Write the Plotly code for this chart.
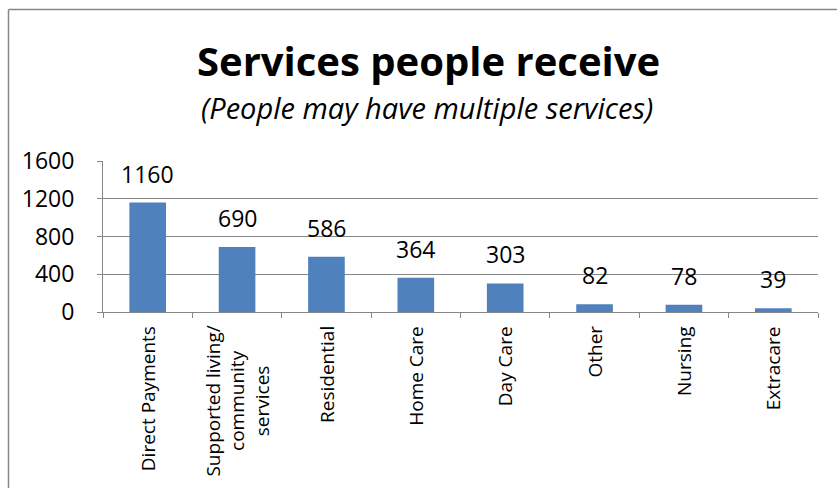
import plotly.graph_objects as go

categories = ["Direct Payments", "Supported living/<br>community<br>services", "Residential",
              "Home Care", "Day Care", "Other", "Nursing", "Extracare"]
values = [1160, 690, 586, 364, 303, 82, 78, 39]
y_ticks = [0, 400, 800, 1200, 1600]

title_text = "Services people receive"
subtitle_text = "(People may have multiple services)"

W, H = 837, 488
L, R, T, B = 103, 19, 161, 176
plot_h = H - T - B
plot_w = W - L - R

def py(pix):
    return (H - B - pix) / plot_h

def px(pix):
    return (pix - L) / plot_w

FONT = "Open Sans"
GRAY = "#868686"

fig = go.Figure()
fig.add_trace(go.Bar(
    x=list(range(len(categories))), y=values,
    marker=dict(color="#4F81BD", line=dict(width=0)),
    width=0.41,
    hoverinfo="skip",
))

annotations = []
for i, v in enumerate(values):
    annotations.append(dict(x=i, y=v, xref="x", yref="y", text=str(v), showarrow=False,
                            yanchor="bottom", yshift=11,
                            font=dict(family=FONT, size=23, color="#000000")))
for i, c in enumerate(categories):
    annotations.append(dict(x=i, y=0, xref="x", yref="paper", text=c, showarrow=False,
                            textangle=-90, yanchor="top", xanchor="center", align="center",
                            yshift=-12,
                            font=dict(family=FONT, size=19, color="#000000")))
annotations.append(dict(x=px(428), y=py(61), xref="paper", yref="paper", text="<b>" + title_text + "</b>",
                        showarrow=False, xanchor="center", yanchor="middle",
                        font=dict(family=FONT, size=40, color="#000000")))
annotations.append(dict(x=px(426.5), y=py(107), xref="paper", yref="paper", text="<i>" + subtitle_text + "</i>",
                        showarrow=False, xanchor="center", yanchor="middle",
                        font=dict(family=FONT, size=29, color="#000000")))

shapes = [
    dict(type="line", xref="paper", yref="paper", x0=px(8.5), x1=px(8.5), y0=py(9.5), y1=py(600),
         line=dict(color=GRAY, width=1.5)),
    dict(type="line", xref="paper", yref="paper", x0=px(8.5), x1=px(900), y0=py(9.5), y1=py(9.5),
         line=dict(color=GRAY, width=1.5)),
]

fig.update_layout(
    width=W, height=H,
    margin=dict(l=L, r=R, t=T, b=B, pad=0),
    paper_bgcolor="white", plot_bgcolor="white",
    showlegend=False,
    annotations=annotations,
    shapes=shapes,
    xaxis=dict(
        type="linear", range=[-0.5, len(categories) - 0.5],
        tickvals=[i - 0.5 for i in range(len(categories) + 1)],
        showticklabels=False, ticks="outside", ticklen=5, tickcolor=GRAY, tickwidth=1,
        showline=True, linecolor=GRAY, linewidth=1, showgrid=False, zeroline=False,
        fixedrange=True,
    ),
    yaxis=dict(
        range=[0, 1600], tickvals=y_ticks, ticktext=[str(t) for t in y_ticks],
        ticks="outside", ticklen=5, tickcolor=GRAY, tickwidth=1,
        showline=True, linecolor=GRAY, linewidth=1,
        showgrid=True, gridcolor=GRAY, gridwidth=1, zeroline=False,
        ticklabelstandoff=18,
        tickfont=dict(family=FONT, size=23, color="#000000"),
        fixedrange=True,
    ),
)

fig.write_html("out.html", config={"displayModeBar": False},
               post_script="document.body.style.margin='0';document.body.style.overflow='hidden';")
